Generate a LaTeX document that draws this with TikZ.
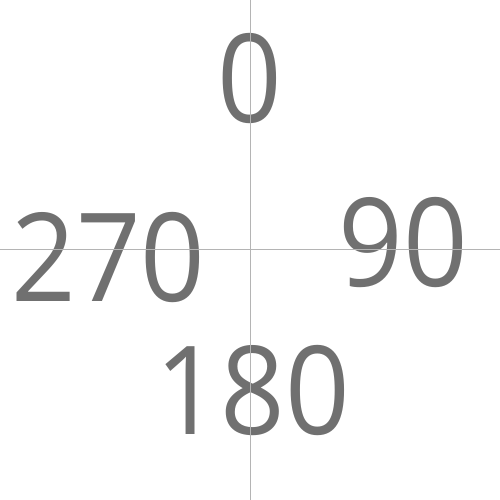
\documentclass[tikz,border=0pt]{standalone}
\usepackage{fontspec}
\setmainfont{Open Sans}[FakeStretch=0.92]
\definecolor{txtgrey}{HTML}{707070}
\definecolor{axgrey}{HTML}{B4B4B4}
\begin{document}
\begin{tikzpicture}[x=1pt,y=1pt,
  lbl/.style={inner sep=0pt,anchor=base,text=txtgrey,font=\fontsize{123}{130}\selectfont},
  axis/.style={draw=axgrey,line width=1pt}]
\useasboundingbox (0,0) rectangle (500,500);
\node[lbl] (n0) at (250,377) {0};
\node[lbl] (n90) at (403.5,213) {90};
\node[lbl] (n180) at (253,65) {180};
\node[lbl] (n270) at (108.5,198) {270};
\coordinate (top) at (250,500);
\coordinate (bot) at (250,0);
\coordinate (lft) at (0,250);
\coordinate (rgt) at (500,250);
\draw[axis] (top) -- (bot);
\draw[axis] (lft) -- (rgt);
\end{tikzpicture}
\end{document}
